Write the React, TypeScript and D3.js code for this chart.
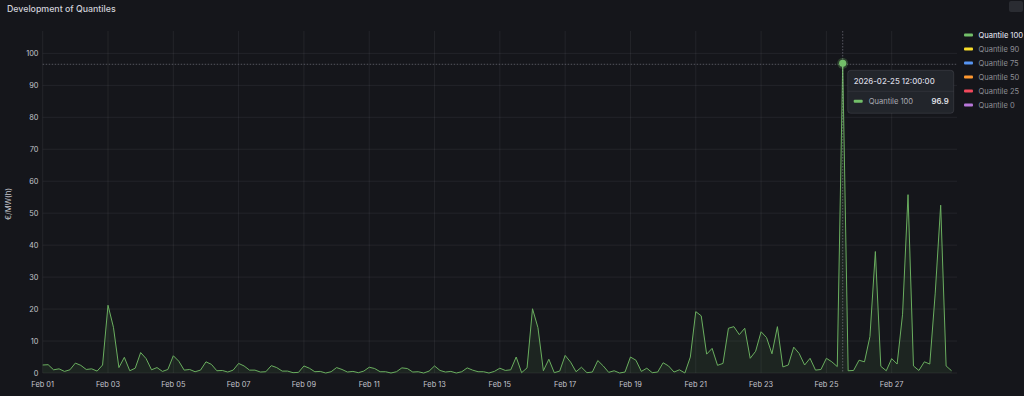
import React from "react";
import * as d3 from "d3";

// ---- data ----
const title = "Development of Quantiles";
const yAxisLabel = "€/MW(h)";
const seriesNames = ["Quantile 100", "Quantile 90", "Quantile 75", "Quantile 50", "Quantile 25", "Quantile 0"];
const seriesColors = ["#73bf69", "#fade2a", "#5794f2", "#ff9830", "#f2495c", "#b877d9"];
const startTime = "2026-02-01T00:00:00Z";
const endTime = "2026-03-01T00:00:00Z";
const stepHours = 4;
// Quantile 100, every 4 hours from Feb 01 00:00
const quantile100 = [
  2.5, 2.6, 1.0, 1.3, 0.5, 1.0, 3.1, 2.4, 1.1, 1.3, 0.6, 2.5,
  21.2, 14.3, 1.7, 4.9, 0.7, 1.5, 6.4, 4.5, 1.0, 1.7, 0.5, 1.1,
  5.4, 3.7, 0.9, 1.1, 0.4, 0.9, 3.5, 2.7, 0.7, 0.8, 0.3, 0.9,
  3.0, 2.2, 0.9, 0.9, 0.3, 0.4, 2.3, 1.7, 0.6, 0.6, 0.1, 0.2,
  2.2, 1.5, 0.4, 0.5, 0.0, 0.4, 1.7, 1.1, 0.3, 0.5, 0.1, 0.6,
  1.8, 1.4, 0.4, 0.4, 0.0, 0.4, 1.6, 1.4, 0.3, 0.4, 0.0, 0.6,
  2.2, 0.8, 0.3, 0.5, 0.0, 0.4, 1.6, 0.9, 0.4, 0.4, 0.0, 0.5,
  1.5, 0.8, 1.0, 5.0, 0.1, 1.6, 20.1, 14.2, 0.7, 4.3, 0.1, 0.6,
  5.5, 3.4, 0.4, 1.8, 0.1, 0.3, 3.9, 2.2, 0.2, 0.7, 0.0, 0.3,
  5.0, 4.0, 0.5, 1.5, 0.1, 0.3, 3.2, 2.2, 0.3, 1.0, 0.0, 5.0,
  19.2, 17.9, 5.9, 7.7, 2.4, 3.0, 14.0, 14.5, 12.0, 14.0, 4.6, 6.8,
  12.9, 11.1, 6.0, 14.5, 1.9, 2.5, 8.1, 6.1, 2.5, 4.6, 0.9, 1.1,
  4.6, 3.5, 2.0, 96.9, 0.7, 0.8, 4.0, 3.5, 11.4, 38.0, 2.1, 0.7,
  4.5, 2.8, 18.4, 55.8, 2.2, 0.8, 3.5, 2.8, 25.0, 52.5, 2.2, 0.7,
];
const yTicks = [0, 10, 20, 30, 40, 50, 60, 70, 80, 90, 100];
const yMax = 107;
const hoverIndex = 147;
const tooltipTime = "2026-02-25 12:00:00";

const W = 1024;
const H = 396;
const FONT = "Inter, 'Noto Sans', sans-serif";

export default function App() {
  const t0 = new Date(startTime);
  const t1 = new Date(endTime);
  const points = quantile100.map((v, i) => ({
    t: new Date(t0.getTime() + i * stepHours * 3600 * 1000),
    v,
  }));
  const x = d3.scaleUtc().domain([t0, t1]).range([42.7, 957]);
  const y = d3.scaleLinear().domain([0, yMax]).range([373, 31]);
  const xTicks = d3.utcDay.range(t0, t1, 2);
  const fmt = d3.utcFormat("%b %d");

  const line = d3
    .line<{ t: Date; v: number }>()
    .x((d) => x(d.t))
    .y((d) => y(d.v));
  const area = d3
    .area<{ t: Date; v: number }>()
    .x((d) => x(d.t))
    .y0(y(0))
    .y1((d) => y(d.v));

  const hp = points[hoverIndex];
  const hx = x(hp.t);
  const hy = y(hp.v);
  const tipX = hx + 5;
  const tipY = hy + 7;
  const tipW = 106;
  const tipH = 43;

  const [x0, x1] = x.range();
  const [yb, yt] = y.range();

  return (
    <svg
      width={W}
      height={H}
      style={{ position: "fixed", left: 0, top: 0, display: "block", background: "#15161b" }}
      fontFamily={FONT}
    >
      <rect x={0} y={0} width={W} height={H} fill="#15161b" />
      <rect x={1009} y={1} width={14} height={11} rx={2} fill="#2a2c32" />
      <text x={7} y={11.5} fill="#d0d1d9" fontSize={8.8} fontWeight={500}>
        {title}
      </text>

      {/* grid */}
      {yTicks.map((t) => (
        <line key={"gy" + t} x1={x0} x2={x1} y1={y(t)} y2={y(t)} stroke="#ccccdc" strokeOpacity={0.08} />
      ))}
      {xTicks.map((d, i) => (
        <line key={"gx" + i} x1={x(d)} x2={x(d)} y1={yt} y2={yb} stroke="#ccccdc" strokeOpacity={0.08} />
      ))}

      {/* y axis */}
      {yTicks.map((t) => (
        <text
          key={"ty" + t}
          x={38.5}
          y={y(t)}
          dy="0.35em"
          textAnchor="end"
          fill="#c3c4cc"
          fontSize={7.4}
        >
          {t}
        </text>
      ))}
      <text
        transform={`translate(10.5, 204) rotate(-90)`}
        textAnchor="middle"
        fill="#c3c4cc"
        fontSize={7.6}
      >
        {yAxisLabel}
      </text>

      {/* x axis */}
      {xTicks.map((d, i) => (
        <text key={"tx" + i} x={x(d)} y={386.5} textAnchor="middle" fill="#c3c4cc" fontSize={7.4}>
          {fmt(d)}
        </text>
      ))}

      {/* series */}
      <path d={area(points) || ""} fill="#73bf69" fillOpacity={0.09} />
      <path d={line(points) || ""} fill="none" stroke="#6aae5f" strokeWidth={1} />

      {/* crosshair */}
      <line x1={hx} x2={hx} y1={yt} y2={yb} stroke="#ccccdc" strokeOpacity={0.35} strokeDasharray="1.5,1.5" />
      <line x1={x0} x2={x1} y1={hy + 1} y2={hy + 1} stroke="#ccccdc" strokeOpacity={0.35} strokeDasharray="1.5,1.5" />
      <circle cx={hx} cy={hy} r={5.5} fill="#73bf69" fillOpacity={0.25} />
      <circle cx={hx} cy={hy} r={3.6} fill="#73bf69" />

      {/* tooltip */}
      <g>
        <rect x={tipX} y={tipY} width={tipW} height={tipH} rx={3} fill="#22252b" stroke="#ccccdc" strokeOpacity={0.12} />
        <text x={tipX + 6} y={tipY + 13.5} fill="#d8d9e0" fontSize={7.8} fontWeight={500}>
          {tooltipTime}
        </text>
        <line x1={tipX} x2={tipX + tipW} y1={tipY + 21} y2={tipY + 21} stroke="#ccccdc" strokeOpacity={0.08} />
        <rect x={tipX + 6} y={tipY + 29.5} width={9} height={3} rx={1} fill={seriesColors[0]} />
        <text x={tipX + 21} y={tipY + 31} dy="0.35em" fill="#a8a9b2" fontSize={7.6}>
          {seriesNames[0]}
        </text>
        <text x={tipX + tipW - 5} y={tipY + 31} dy="0.35em" textAnchor="end" fill="#e0e1e8" fontSize={7.8} fontWeight={600}>
          {hp.v.toFixed(1)}
        </text>
      </g>

      {/* legend */}
      {seriesNames.map((n, i) => (
        <g key={n} transform={`translate(964, ${35 + i * 14})`}>
          <rect x={0} y={-1.5} width={9} height={3} rx={1} fill={seriesColors[i]} />
          <text x={14.5} y={0} dy="0.35em" fill={i === 0 ? "#d8d9e0" : "#8d8e96"} fontSize={7.5} fontWeight={i === 0 ? 500 : 400}>
            {n}
          </text>
        </g>
      ))}
    </svg>
  );
}
